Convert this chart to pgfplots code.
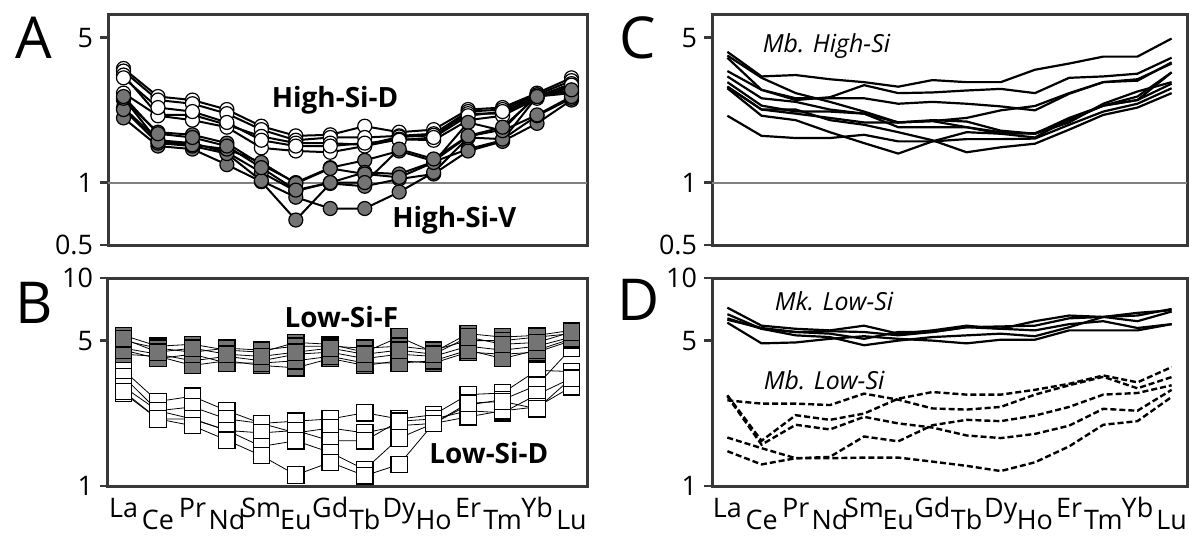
\documentclass[border=0pt]{standalone}
\usepackage{pgfplots}
\pgfplotsset{compat=1.18}
\usepackage{pgfplotstable}
\usepackage{fontspec}
\setmainfont{Open Sans}

\definecolor{frame}{HTML}{383838}
\definecolor{dot}{HTML}{747474}
\newcommand\lo[1]{\raisebox{-6bp}{#1}}

% panel A: High-Si-D (white) and High-Si-V (grey)
\pgfplotstableread{
x d1 d2 d3 d4 d5
0 3.55 3.45 3.30 2.70 3.20
1 2.60 2.50 2.12 2.10 2.30
2 2.50 2.40 2.12 2.00 2.20
3 2.25 2.15 1.90 1.85 1.95
4 1.87 1.80 1.67 1.47 1.60
5 1.68 1.60 1.55 1.42 1.50
6 1.70 1.65 1.55 1.40 1.50
7 1.87 1.65 1.52 1.50 1.55
8 1.75 1.68 1.66 1.62 1.60
9 1.80 1.72 1.69 1.60 1.65
10 2.25 2.20 2.15 2.00 2.10
11 2.30 2.25 2.15 2.10 2.20
12 2.70 2.65 2.60 2.55 2.60
13 3.20 3.10 3.00 2.90 2.95
}\highD
\pgfplotstableread{
x v1 v2 v3 v4 v5 v6
0 2.50 2.30 2.05 2.25 2.55 2.60
1 1.75 1.60 1.50 1.55 1.58 1.72
2 1.70 1.55 1.45 1.50 1.52 1.65
3 1.55 1.40 1.22 1.38 1.45 1.50
4 1.22 1.12 1.01 1.02 1.25 1.18
5 1.00 0.91 0.66 0.85 0.99 0.92
6 1.18 1.00 0.99 0.75 1.17 1.00
7 1.28 1.12 0.96 0.75 1.10 1.00
8 1.42 1.10 1.04 0.90 1.06 1.45
9 1.27 1.26 1.10 1.12 1.25 1.30
10 1.67 1.45 1.42 1.65 1.95 1.68
11 1.80 1.60 1.58 1.62 1.78 1.85
12 2.65 2.60 1.93 2.10 2.12 2.60
13 2.75 2.70 2.50 2.55 2.60 2.80
}\highV

% panel B: Low-Si-F (grey) and Low-Si-D (white)
\pgfplotstableread{
x f1 f2 f3 f4 f5 f6
0 5.3 5.0 4.6 4.3 4.5 5.1
1 4.7 4.6 4.3 4.2 4.1 4.4
2 4.8 4.4 4.0 3.8 4.3 4.6
3 4.5 4.6 4.2 4.0 3.9 4.3
4 4.4 4.5 4.0 3.8 3.9 4.2
5 4.9 4.7 4.3 3.7 4.0 4.4
6 4.8 4.7 4.4 4.1 4.2 4.6
7 4.4 4.6 4.1 3.8 3.9 4.3
8 5.2 4.7 4.3 4.0 3.9 4.5
9 4.4 4.5 4.2 3.9 4.0 4.3
10 5.4 5.0 4.7 4.4 4.5 5.2
11 5.2 5.0 4.5 4.3 4.1 4.8
12 5.3 5.2 4.7 4.4 4.5 4.9
13 5.6 5.4 5.2 5.0 5.1 5.5
}\lowF
\pgfplotstableread{
x e1 e2 e3 e4 e5
0 3.60 3.35 3.00 2.80 2.85
1 2.55 2.30 2.30 2.10 2.10
2 2.70 2.40 2.10 2.10 1.95
3 2.30 2.10 1.85 1.85 1.66
4 2.00 2.00 1.80 1.55 1.40
5 2.05 1.80 1.85 1.65 1.13
6 2.10 1.90 1.65 1.45 1.30
7 2.25 1.80 1.65 1.20 1.12
8 2.10 1.95 2.05 1.70 1.27
9 2.20 2.00 2.10 2.00 2.00
10 2.75 2.45 2.30 2.15 2.50
11 2.80 2.60 2.25 2.30 2.55
12 3.60 3.05 2.75 2.40 2.35
13 3.55 4.60 3.30 3.00 3.30
}\lowD

% panel C: Mb. High-Si
\pgfplotstableread{
x c1 c2 c3 c4 c5 c6 c7 c8 c9 c10
0 4.27 4.10 4.00 3.45 3.25 3.05 2.90 2.85 2.90 2.10
1 3.25 3.20 2.80 2.80 2.55 2.35 2.25 2.10 2.25 1.68
2 3.30 2.70 2.50 2.55 2.45 2.20 2.15 2.00 2.25 1.64
3 3.15 2.45 2.58 2.55 2.25 2.20 2.05 1.75 2.00 1.64
4 3.05 2.20 2.95 2.55 2.15 2.15 1.95 1.55 1.90 1.70
5 2.90 1.95 2.70 2.40 1.95 1.85 1.95 1.38 1.75 1.58
6 3.12 1.98 2.72 2.45 1.98 1.85 2.00 1.58 1.60 1.58
7 3.05 1.85 2.78 2.40 2.05 1.85 1.97 1.75 1.40 1.62
8 3.05 1.75 2.83 2.33 2.23 1.72 1.78 1.72 1.48 1.62
9 3.50 1.72 2.70 2.23 2.34 1.65 1.72 1.73 1.54 1.63
10 3.75 2.05 3.20 2.68 2.70 2.02 1.95 2.00 1.80 1.90
11 4.05 2.35 3.25 3.05 3.05 2.35 2.40 2.35 2.12 2.20
12 4.05 2.50 3.35 3.15 3.10 2.50 2.75 2.60 2.30 2.40
13 4.95 3.00 4.00 3.75 3.80 3.40 3.05 3.40 2.70 2.85
}\mbHigh

% panel D: Mk. Low-Si (solid) and Mb. Low-Si (dashed)
\pgfplotstableread{
x m1 m2 m3 m4 m5
0 7.2 6.7 6.4 6.1 6.3
1 5.9 5.7 5.7 4.85 5.75
2 5.7 5.5 5.3 4.9 5.5
3 5.6 5.55 5.2 5.1 5.4
4 5.9 5.5 4.75 5.25 5.1
5 5.4 5.3 5.0 5.1 5.5
6 5.6 5.5 5.2 5.0 5.5
7 5.9 5.8 5.3 4.85 5.8
8 5.7 5.85 5.4 5.05 5.7
9 6.2 5.9 5.25 5.05 5.6
10 6.6 6.4 5.8 5.6 6.0
11 6.5 6.5 6.5 5.6 6.2
12 6.6 6.8 6.2 5.6 5.75
13 7.1 7.0 6.9 6.0 6.0
}\mkLow
\pgfplotstableread{
x l1 l2 l3 l4 l5
0 2.73 2.70 2.58 1.71 1.47
1 1.65 1.58 2.49 1.52 1.27
2 2.19 1.97 2.49 1.36 1.36
3 2.08 1.87 2.45 1.38 1.36
4 2.23 2.15 2.78 1.73 1.37
5 2.63 2.00 2.60 1.64 1.37
6 2.83 1.91 2.36 1.96 1.31
7 2.75 1.75 2.33 2.08 1.25
8 2.75 1.70 2.40 2.05 1.18
9 2.90 1.78 2.75 2.18 1.30
10 3.10 1.95 3.05 2.40 1.55
11 3.40 2.35 3.35 2.75 1.97
12 3.15 2.30 2.95 2.80 2.05
13 3.73 2.90 3.34 3.05 2.68
}\mbLow

\pgfplotsset{
  every axis/.append style={
    scale only axis,
    xmin=-0.45, xmax=13.45,
    axis line style={line width=1.5bp, draw=frame},
    ytick pos=left, tick align=outside,
    major tick length=4bp,
    ytick style={line width=1.2bp, draw=frame},
    xtick style={draw=none},
    tick label style={font=\fontsize{13.5}{15}\selectfont},
    clip=false,
  },
  wdot/.style={black, line width=1bp, mark=*, mark size=3.5bp,
    mark options={fill=white, line width=0.6bp}},
  gdot/.style={black, line width=1bp, mark=*, mark size=3.5bp,
    mark options={fill=dot, line width=0.6bp}},
  wsq/.style={black, line width=0.4bp, mark=square*, mark size=4.1bp,
    mark options={fill=white, line width=0.6bp}},
  gsq/.style={black, line width=0.4bp, mark=square*, mark size=4.1bp,
    mark options={fill=dot, line width=0.6bp}},
}
\tikzset{
  grplab/.style={font=\fontsize{14}{16}\selectfont\bfseries},
  itlab/.style={font=\fontsize{12.5}{15}\selectfont\itshape},
  letter/.style={anchor=base west, font=\fontsize{29}{32}\selectfont},
}

\begin{document}
\begin{tikzpicture}
\useasboundingbox (0,0) rectangle (594.5bp,-270.5bp);

% A
\begin{axis}[ymode=log, at={(54bp,-7bp)}, anchor=north west,
  width=239.5bp, height=115.5bp, ymin=0.5, ymax=6.5,
  ytick={0.5,1,5}, yticklabels={0.5,1,5}, xtick=\empty, yminorticks=false]
\addplot[gray, line width=1bp] coordinates {(-0.45,1) (13.45,1)};
\pgfplotsinvokeforeach{1,...,5}{\addplot[wdot] table[x=x, y=d#1] {\highD};}
\pgfplotsinvokeforeach{1,...,6}{\addplot[gdot] table[x=x, y=v#1] {\highV};}
\node[grplab] at (axis cs:6.14,2.49) {High-Si-D};
\node[grplab] at (axis cs:9.6,0.66) {High-Si-V};
\end{axis}

% B
\begin{axis}[ymode=log, at={(54bp,-139bp)}, anchor=north west,
  width=239.5bp, height=104bp, ymin=1, ymax=10,
  ytick={1,5,10}, yticklabels={1,5,10}, yminorticks=false,
  xtick={0,...,13},
  xticklabels={La,\lo{Ce},Pr,\lo{Nd},Sm,\lo{Eu},Gd,\lo{Tb},Dy,\lo{Ho},Er,\lo{Tm},Yb,\lo{Lu}},
  xticklabel style={anchor=base, yshift=-12bp}]
\pgfplotsinvokeforeach{1,...,5}{\addplot[wsq] table[x=x, y=e#1] {\lowD};}
\pgfplotsinvokeforeach{1,...,6}{\addplot[gsq] table[x=x, y=f#1] {\lowF};}
\node[grplab] at (axis cs:6.32,6.47) {Low-Si-F};
\node[grplab] at (axis cs:10.6,1.44) {Low-Si-D};
\end{axis}

% C
\begin{axis}[ymode=log, at={(356bp,-7bp)}, anchor=north west,
  width=237.5bp, height=115.5bp, ymin=0.5, ymax=6.5,
  ytick={0.5,1,5}, yticklabels={0.5,1,5}, xtick=\empty, yminorticks=false]
\addplot[gray, line width=1bp] coordinates {(-0.45,1) (13.45,1)};
\pgfplotsinvokeforeach{1,...,10}{\addplot[black, line width=1.1bp] table[x=x, y=c#1] {\mbHigh};}
\node[itlab] at (axis cs:2.9,4.56) {Mb. High-Si};
\end{axis}

% D
\begin{axis}[ymode=log, at={(356bp,-139bp)}, anchor=north west,
  width=237.5bp, height=104bp, ymin=1, ymax=10,
  ytick={1,5,10}, yticklabels={1,5,10}, yminorticks=false,
  xtick={0,...,13},
  xticklabels={La,\lo{Ce},Pr,\lo{Nd},Sm,\lo{Eu},Gd,\lo{Tb},Dy,\lo{Ho},Er,\lo{Tm},Yb,\lo{Lu}},
  xticklabel style={anchor=base, yshift=-12bp}]
\pgfplotsinvokeforeach{1,...,5}{\addplot[black, line width=1.1bp] table[x=x, y=m#1] {\mkLow};}
\pgfplotsinvokeforeach{1,...,5}{\addplot[black, line width=1.2bp, dash pattern=on 3bp off 1.5bp] table[x=x, y=l#1] {\mbLow};}
\node[itlab] at (axis cs:3.12,7.74) {Mk. Low-Si};
\node[itlab] at (axis cs:2.83,3.22) {Mb. Low-Si};
\end{axis}

\node[letter] at (4bp,-29bp) {A};
\node[letter] at (4bp,-161.5bp) {B};
\node[letter] at (306bp,-29bp) {C};
\node[letter] at (305bp,-160bp) {D};
\end{tikzpicture}
\end{document}
